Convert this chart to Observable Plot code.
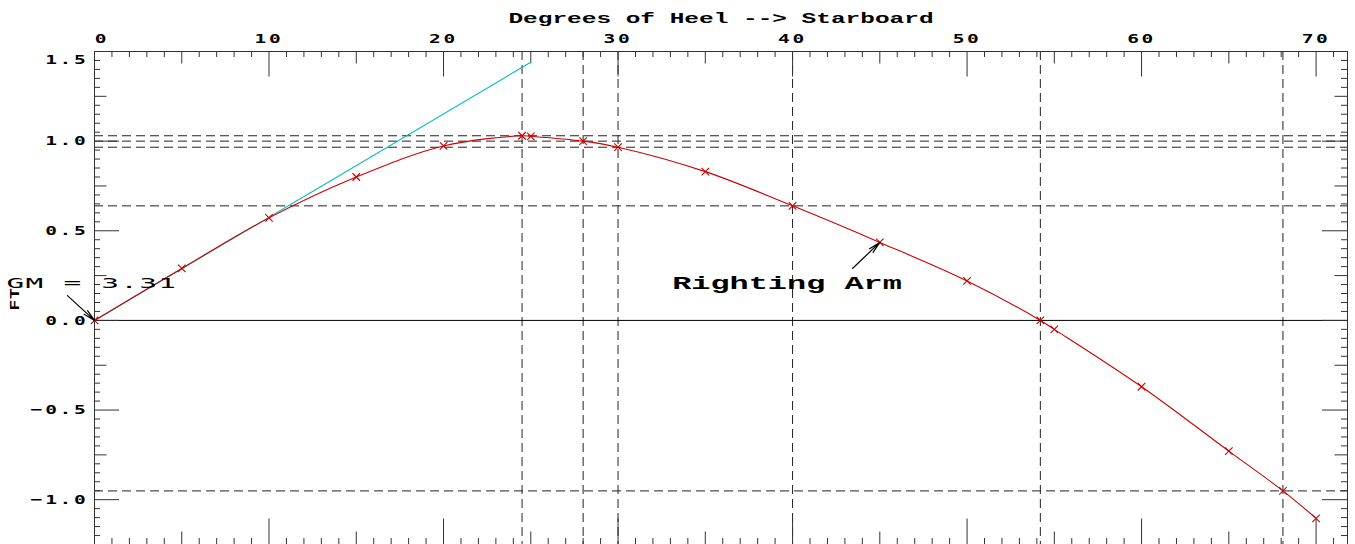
<!DOCTYPE html>
<html><head><meta charset="utf-8">
<script src="https://cdn.jsdelivr.net/npm/d3@7"></script>
<script src="https://cdn.jsdelivr.net/npm/@observablehq/plot@0.6"></script>
<style>body{margin:0;background:#fff} svg{display:block}</style>
</head><body><div id="chart"></div>
<script>
// ---- data ----
const heel = [0, 5, 10, 15, 20, 24.5, 25, 28, 30, 35, 40, 45, 50, 54.2, 55, 60, 65, 68.1, 70];
const rightingArm = [0, 0.29, 0.572, 0.80, 0.973, 1.03, 1.027, 1.0, 0.966, 0.83, 0.639, 0.435, 0.22, 0, -0.05, -0.37, -0.729, -0.951, -1.104];
const gmHeel = [0, 25];
const gmArm = [0, 1.44];
const refHeel = [24.5, 28, 30, 40, 54.2, 68.1];
const refArm = [1.03, 1.0, 0.966, 0.639, -0.951];
const xTickLabels = [0, 10, 20, 30, 40, 50, 60, 70];
const yTickLabels = [1.5, 1.0, 0.5, 0.0, -0.5, -1.0];
const titleText = "Degrees of Heel --> Starboard";
const yAxisLabel = "FT";
const gmLabel = "GM = 3.31";
const gmLabelPos = [-5.04, 0.206];
const gmArrow = [-1.55, 0.138, 0, 0];
const armLabel = "Righting Arm";
const armLabelPos = [33.1, 0.21];
const armArrow = [43.45, 0.291, 45, 0.435];
const yLabelPos = [-4.53, 0.119];

// ---- layout ----
const W = 1355, H = 544, mL = 94, mR = 8, mT = 51, mB = 0;
const fw = W - mL - mR, fh = H - mT - mB;
const xDomain = [0, 71.8], yDomain = [-1.25, 1.5];

const rows = heel.map((h, i) => ({heel: h, arm: rightingArm[i]}));
const gmRows = gmHeel.map((h, i) => ({heel: h, arm: gmArm[i]}));

const xAll = d3.range(0, 72);
const xMinor = xAll.filter(d => d % 5 !== 0);
const xMid = xAll.filter(d => d % 5 === 0 && d % 10 !== 0);
const xMajor = xAll.filter(d => d % 10 === 0);
const yIdx = d3.range(-25, 31);
const yMinor = yIdx.filter(i => i % 5 !== 0).map(i => i * 0.05);
const yMid = yIdx.filter(i => i % 5 === 0 && i % 10 !== 0).map(i => i * 0.05);
const yMajor = yIdx.filter(i => i % 10 === 0).map(i => i * 0.05);

const tickStroke = "#333";
const tickFont = {fontFamily: "DejaVu Sans Mono", fontWeight: "bold", fontSize: 13, fill: "#000"};

const topTicks = (data, len) => Plot.tickX(data, {x: d => d, insetBottom: fh - len, stroke: tickStroke});
const botTicks = (data, len) => Plot.tickX(data, {x: d => d, insetTop: fh - len, stroke: tickStroke});
const leftTicks = (data, len) => Plot.tickY(data, {y: d => d, insetRight: fw - len, stroke: tickStroke});
const rightTicks = (data, len) => Plot.tickY(data, {y: d => d, insetLeft: fw - len, stroke: tickStroke});

const chart = Plot.plot({
  width: W, height: H,
  marginLeft: mL, marginRight: mR, marginTop: mT, marginBottom: mB,
  x: {domain: xDomain, axis: null},
  y: {domain: yDomain, axis: null},
  style: {background: "#fff", overflow: "visible"},
  marks: [
    // reference lines
    Plot.ruleX(refHeel, {stroke: "#222", strokeDasharray: "9,5", strokeWidth: 1}),
    Plot.ruleY(refArm, {stroke: "#222", strokeDasharray: "9,5", strokeWidth: 1}),
    Plot.ruleY([0], {stroke: "#000", strokeWidth: 1}),
    // frame edges
    Plot.ruleY([yDomain[1]], {stroke: "#333"}),
    Plot.ruleX(xDomain, {stroke: "#333"}),
    // ticks
    topTicks(xMinor, 6), topTicks(xMid, 12.5), topTicks(xMajor, 25.5),
    botTicks(xMinor, 6), botTicks(xMid, 12.5), botTicks(xMajor, 25.5),
    leftTicks(yMinor, 6), leftTicks(yMid, 12.5), leftTicks(yMajor, 25),
    rightTicks(yMinor, 6), rightTicks(yMid, 12.5), rightTicks(yMajor, 25),
    // GM tangent
    Plot.line(gmRows, {x: "heel", y: "arm", stroke: "#00bcbc", strokeWidth: 1.1}),
    // righting arm curve
    Plot.line(rows, {x: "heel", y: "arm", stroke: "#cc0000", strokeWidth: 1.1, curve: "catmull-rom"}),
    Plot.dot(rows, {x: "heel", y: "arm", symbol: "times", r: 3.5, stroke: "#cc0000", strokeWidth: 1.1}),
    // arrows
    Plot.arrow([gmArrow], {x1: d => d[0], y1: d => d[1], x2: d => d[2], y2: d => d[3], stroke: "#000", strokeWidth: 1.2, headLength: 15, headAngle: 24}),
    Plot.arrow([armArrow], {x1: d => d[0], y1: d => d[1], x2: d => d[2], y2: d => d[3], stroke: "#000", strokeWidth: 1.2, headLength: 15, headAngle: 24}),
    // tick labels
    Plot.text(xTickLabels.filter(d => d !== 0), {x: d => d, frameAnchor: "top", dy: -17.5, text: d => String(d), ...tickFont}),
    Plot.text(xTickLabels.filter(d => d === 0), {x: d => d, frameAnchor: "top", dy: -17.5, dx: 7.5, text: d => String(d), ...tickFont}),
    Plot.text(yTickLabels.filter(d => d !== 1.5), {y: d => d, frameAnchor: "left", dx: -6, textAnchor: "end", text: d3.format(".1f"), ...tickFont}),
    Plot.text(yTickLabels.filter(d => d === 1.5), {y: d => d, frameAnchor: "left", dx: -6, dy: 8, textAnchor: "end", text: d3.format(".1f"), ...tickFont}),
    // title & axis label
    Plot.text([titleText], {frameAnchor: "top", dy: -39.5, fontFamily: "Liberation Mono", fontWeight: "bold", fontSize: 15, fill: "#000"}),
    Plot.text([yLabelPos], {x: d => d[0], y: d => d[1], text: () => yAxisLabel, rotate: -90, fontFamily: "Liberation Mono", fontWeight: "bold", fontSize: 12, fill: "#000"}),
    // annotations
    Plot.text([gmLabelPos], {x: d => d[0], y: d => d[1], text: () => gmLabel, textAnchor: "start", fontFamily: "DejaVu Sans Mono", fontSize: 14, fill: "#000"}),
    Plot.text([armLabelPos], {x: d => d[0], y: d => d[1], text: () => armLabel, textAnchor: "start", fontFamily: "Liberation Mono", fontWeight: "bold", fontSize: 19, fill: "#000"})
  ]
});

// horizontal stretching of the old plotter-style lettering (keeps Plot's own x/y/dy attributes)
function stretchText(t, s, ls) {
  let tr = t.getAttribute("transform") || "";
  const xa = t.getAttribute("x");
  if (xa !== null && !isNaN(+xa)) {
    t.removeAttribute("x");
    tr = tr + ` translate(${+xa},0)`;
  }
  t.setAttribute("transform", tr + ` scale(${s},1)`);
  if (ls) t.style.letterSpacing = ls + "px";
}
chart.querySelectorAll("text").forEach(t => {
  const s = t.textContent;
  if (s === titleText) stretchText(t, 1.63, 0);
  else if (s === yAxisLabel) stretchText(t, 1.5, 0.5);
  else if (s === gmLabel) stretchText(t, 2.1, 0.6);
  else if (s === armLabel) stretchText(t, 1.68, 0);
  else if (/^[−\-]?\d+(\.\d)?$/.test(s)) stretchText(t, 1.5, 1.8);
});

document.getElementById("chart").appendChild(chart);
</script>
</body></html>
